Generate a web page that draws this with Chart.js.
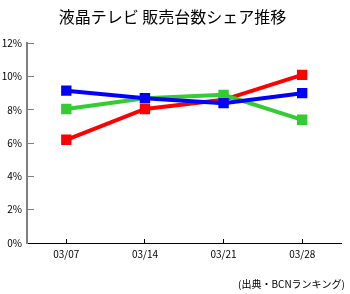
<!DOCTYPE html>
<html>
<head>
<meta charset="utf-8">
<script src="https://cdn.jsdelivr.net/npm/chart.js@4.4.0/dist/chart.umd.min.js"></script>
<style>
  html, body { margin: 0; padding: 0; background: #fff; }
  #wrap { width: 350px; height: 294px; }
</style>
</head>
<body>
<div id="wrap"><canvas id="shareChart" width="350" height="294"></canvas></div>
<script>
const weeks = ["03/07", "03/14", "03/21", "03/28"];
const blueShare = [9.15, 8.7, 8.4, 9.0];
const greenShare = [8.05, 8.7, 8.9, 7.4];
const redShare = [6.2, 8.05, 8.6, 10.1];
const yTicks = [0, 2, 4, 6, 8, 10, 12];

const font = "'Noto Sans CJK JP', 'Noto Sans', sans-serif";

function series(data, color) {
  return {
    data: data,
    borderColor: color,
    backgroundColor: color,
    borderWidth: 4,
    pointStyle: "rect",
    pointRadius: 4.5,
    pointHoverRadius: 4.5,
    tension: 0,
  };
}

new Chart(document.getElementById("shareChart"), {
  type: "line",
  data: {
    labels: weeks,
    datasets: [
      series(blueShare, "#0000ff"),
      series(greenShare, "#33cc33"),
      series(redShare, "#ff0000"),
    ],
  },
  options: {
    responsive: false,
    animation: false,
    layout: { padding: { left: 0, right: 5, top: 0, bottom: 4 } },
    plugins: {
      legend: { display: false },
      tooltip: { enabled: false },
      title: {
        display: true,
        text: "液晶テレビ 販売台数シェア推移",
        color: "#000",
        font: { family: font, size: 16, weight: "normal" },
        padding: { top: 7, bottom: 17 },
      },
      subtitle: {
        display: true,
        position: "bottom",
        align: "end",
        text: "(出典・BCNランキング)",
        color: "#000",
        font: { family: font, size: 10, weight: "normal" },
        padding: { top: 9, bottom: 0 },
      },
    },
    scales: {
      x: {
        offset: true,
        grid: {
          offset: false,
          drawOnChartArea: false,
          drawTicks: true,
          tickLength: -4,
          color: "#000",
        },
        border: { color: "#000", width: 1 },
        ticks: { color: "#000", padding: 9, font: { family: font, size: 10 } },
      },
      y: {
        min: 0,
        max: 12,
        afterBuildTicks: (scale) => {
          scale.ticks = yTicks.map((v) => ({ value: v }));
        },
        afterFit: (scale) => { scale.width = 27; },
        grid: {
          drawOnChartArea: false,
          drawTicks: true,
          tickLength: -7,
          color: "#808080",
          lineWidth: 1,
        },
        border: { color: "#808080", width: 2 },
        ticks: {
          color: "#000",
          padding: 12,
          font: { family: font, size: 10 },
          callback: (v) => v + "%",
        },
      },
    },
  },
});
</script>
</body>
</html>
